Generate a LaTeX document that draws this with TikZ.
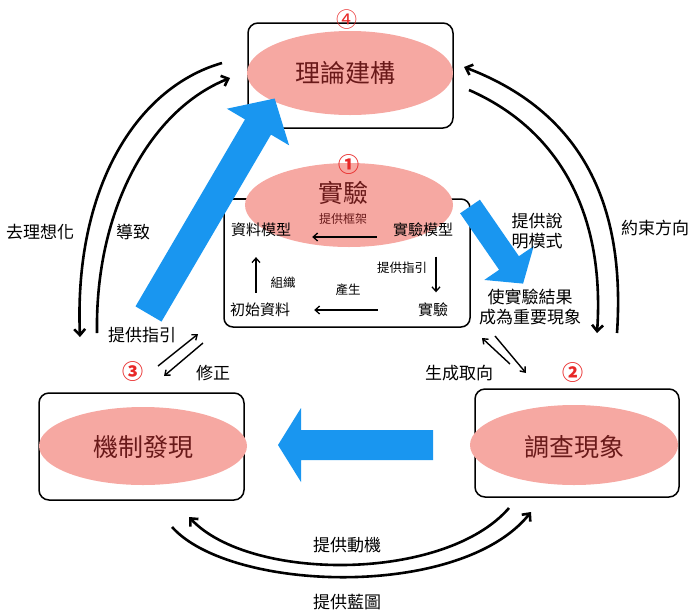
\documentclass[tikz,border=0pt]{standalone}
\usepackage{fontspec}
\newfontfamily\cjk{Noto Sans CJK TC}
\usetikzlibrary{arrows.meta,shapes.geometric}
\definecolor{pinkc}{RGB}{246,168,162}
\definecolor{bluec}{RGB}{25,150,240}
\definecolor{redc}{RGB}{232,40,40}
\definecolor{darkredc}{RGB}{105,25,25}
\begin{document}
\begin{tikzpicture}[x=1pt,y=-1pt,font=\cjk,
  box/.style={draw,line width=1.5pt,rounded corners=10pt,inner sep=0pt},
  oval/.style={ellipse,fill=pinkc,inner sep=0pt},
  maintext/.style={text=darkredc,font=\cjk\fontsize{25}{25}\selectfont,inner sep=0pt},
  lbl/.style={font=\cjk\fontsize{17}{20}\selectfont,inner sep=0pt},
  ilbl/.style={font=\cjk\fontsize{15}{18}\selectfont,inner sep=0pt},
  slbl/.style={font=\cjk\fontsize{12.5}{15}\selectfont,inner sep=0pt},
  num/.style={text=redc,font=\cjk\bfseries\fontsize{21}{21}\selectfont,inner sep=0pt},
  arc/.style={line width=2.6pt,-{Straight Barb[length=6pt,width=11pt]}},
  tarrow/.style={line width=1.3pt,-{Straight Barb[length=4.5pt,width=8pt]}},
  darrow/.style={line width=1.4pt,-{Straight Barb[length=4.5pt,width=7pt]}}]
\useasboundingbox (0,0) rectangle (693,614);

% boxes
\node[box,minimum width=205pt,minimum height=105pt] (b4) at (350.5,75.5) {};
\node[box,minimum width=205pt,minimum height=107pt] (b3) at (141.5,446.5) {};
\node[box,minimum width=204pt,minimum height=108pt] (b2) at (577,443) {};

% middle bracket box
\draw[line width=1.5pt] (232,199) -- (257,199);
\draw[line width=1.5pt,rounded corners=9pt] (224,212) -- (224,327) -- (470,327) -- (470,199) -- (450,199);

% ellipses
\node[oval,minimum width=206pt,minimum height=84pt] (e4) at (350,73) {};
\node[oval,minimum width=208pt,minimum height=84pt] (e1) at (349,205) {};
\node[oval,minimum width=208pt,minimum height=78pt] (e3) at (143,446) {};
\node[oval,minimum width=208pt,minimum height=80pt] (e2) at (574,445) {};

% blue arrows
\fill[bluec] (135.5,306.4) -- (245,119.4) -- (226.9,108.7) -- (274.7,98.5) -- (289.1,145.3) -- (271,134.6) -- (161.5,321.6) -- cycle;
\fill[bluec] (460.1,213.3) -- (499.1,269.8) -- (484.25,279.95) -- (523.1,283.6) -- (533.75,246.05) -- (518.9,256.2) -- (479.9,199.7) -- cycle;
\fill[bluec] (433,430) -- (301,430) -- (301,408) -- (278,445) -- (301,482) -- (301,460) -- (433,460) -- cycle;

% main texts
\node[maintext] (t4) at (345,73) {理論建構};
\node[maintext] (t1) at (343,193) {實驗};
\node[maintext] (t3) at (143,447) {機制發現};
\node[maintext] (t2) at (574,447) {調查現象};
\node[num,font=\cjk\fontsize{21}{21}\selectfont] (n4) at (347,20) {④};
\node[num] (n1) at (349,165) {①};
\node[num] (n3) at (133,372) {③};
\node[num] (n2) at (573,373) {②};

% inner texts
\node[font=\cjk\fontsize{12}{14}\selectfont,text=darkredc,inner sep=0pt] (kj) at (343,219) {提供框架};
\node[ilbl] (dm) at (261,230) {資料模型};
\node[ilbl] (em) at (423,230) {實驗模型};
\node[ilbl] (ci) at (260,310) {初始資料};
\node[ilbl] (ex) at (433,310) {實驗};
\node[slbl] (zz) at (283,283) {組織};
\node[slbl] (cs) at (348,290) {產生};
\node[slbl] (zy) at (402,268) {提供指引};
\coordinate (vx) at (436,0);
\draw[tarrow,shorten <=16pt,shorten >=21pt] ([yshift=-7pt]em.west) -- ([yshift=-7pt]dm.east);
\draw[tarrow,shorten <=19.5pt,shorten >=10.5pt] (em.south -| vx) -- (ex.north -| vx);
\draw[tarrow,shorten <=40pt,shorten >=24pt] (ex.west) -- (ci.east);
\draw[tarrow,shorten <=10pt,shorten >=20pt] ([xshift=-4pt]ci.north) -- ([xshift=-5pt]dm.south);

% outer labels
\node[lbl] (l1) at (40,232) {去理想化};
\node[lbl] (l2) at (133,232) {導致};
\node[lbl,align=center] (l3) at (537,231) {提供說\\明模式};
\node[lbl] (l4) at (655,228) {約束方向};
\node[lbl,align=center] (l5) at (530,307.5) {使實驗結果\\成為重要現象};
\node[lbl] (l6) at (142,335) {提供指引};
\node[lbl] (l7) at (213,373) {修正};
\node[lbl] (l8) at (459,373) {生成取向};
\node[lbl] (l9) at (347,545) {提供動機};
\node[lbl] (l10) at (347,602) {提供藍圖};

% big arcs
\coordinate (la1) at (222,63);  \coordinate (la2) at (80,337);
\coordinate (lb1) at (97,333);  \coordinate (lb2) at (230,78);
\coordinate (ra1) at (617,333); \coordinate (ra2) at (464,67);
\coordinate (rb1) at (469,90);  \coordinate (rb2) at (597,333);
\coordinate (ba1) at (172,527); \coordinate (ba2) at (531,512);
\coordinate (bb1) at (509,508); \coordinate (bb2) at (189,517);
\draw[arc] (la1) .. controls (135,88) and (74,190) .. (la2);
\draw[arc] (lb1) .. controls (95,210) and (150,110) .. (lb2);
\draw[arc] (ra1) .. controls (625,215) and (590,115) .. (ra2);
\draw[arc] (rb1) .. controls (560,130) and (605,215) .. (rb2);
\draw[arc] (ba1) .. controls (230,592) and (460,600) .. (ba2);
\draw[arc] (bb1) .. controls (445,582) and (250,582) .. (bb2);

% small double arrows
\coordinate (s1a) at (158,366); \coordinate (s1b) at (198,334);
\coordinate (s2a) at (203,343); \coordinate (s2b) at (164,376);
\coordinate (s3a) at (510,364); \coordinate (s3b) at (482,338);
\coordinate (s4a) at (495,336); \coordinate (s4b) at (526,373);
\draw[darrow] (s1a) -- (s1b);
\draw[darrow] (s2a) -- (s2b);
\draw[darrow] (s3a) -- (s3b);
\draw[darrow] (s4a) -- (s4b);
\end{tikzpicture}
\end{document}
